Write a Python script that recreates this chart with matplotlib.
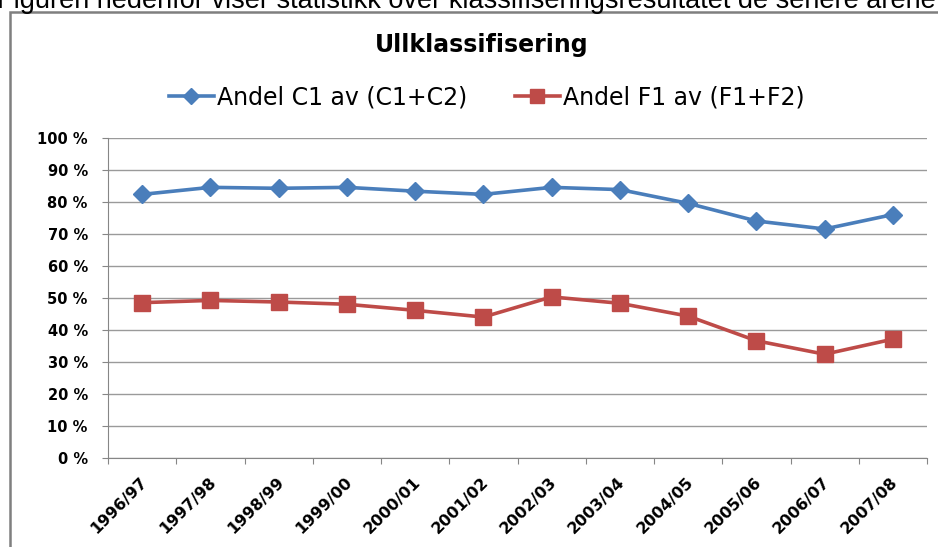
import matplotlib.pyplot as plt
from matplotlib.patches import Rectangle
from matplotlib.ticker import FixedLocator, NullFormatter

sesonger = ['1996/97', '1997/98', '1998/99', '1999/00', '2000/01', '2001/02',
            '2002/03', '2003/04', '2004/05', '2005/06', '2006/07', '2007/08']
andel_c1 = [82.3, 84.5, 84.2, 84.5, 83.3, 82.3, 84.5, 83.8, 79.5, 74.0, 71.5, 76.0]
andel_f1 = [48.5, 49.2, 48.7, 48.0, 46.1, 44.0, 50.3, 48.3, 44.3, 36.6, 32.4, 37.1]
y_ticks = list(range(0, 101, 10))

font = ['DejaVu Sans']
blaa = '#4A7EBB'
rod = '#BE4B48'
graa = '#868686'

fig = plt.figure(figsize=(9.38, 5.47), dpi=100)
ax = fig.add_axes([108 / 938, 1 - 458 / 547, (927 - 108) / 938, (458 - 137.7) / 547])

x = list(range(len(sesonger)))
ax.plot(x, andel_c1, color=blaa, lw=2.6, marker='D', ms=9.5, label='Andel C1 av (C1+C2)')
ax.plot(x, andel_f1, color=rod, lw=2.6, marker='s', ms=11.5, label='Andel F1 av (F1+F2)')

ax.set_xlim(-0.5, len(sesonger) - 0.5)
ax.set_ylim(0, 100)
ax.set_yticks(y_ticks)
ax.set_yticklabels([f'{v} %' for v in y_ticks], fontfamily=font, fontweight='bold', fontsize=10.5)
ax.tick_params(axis='y', length=4.5, color=graa, pad=10)
ax.grid(axis='y', color='#9A9A9A', lw=1)
ax.set_axisbelow(True)

# kategorietiketter midt i, hakene mellom kategoriene
ax.xaxis.set_major_locator(FixedLocator([i - 0.5 for i in range(len(sesonger) + 1)]))
ax.xaxis.set_major_formatter(NullFormatter())
ax.tick_params(axis='x', length=4.5, color=graa)
for i, s in enumerate(sesonger):
    ax.annotate(s, (i, 0), xycoords='data', xytext=(2, -16), textcoords='offset points',
                rotation=45, ha='right', va='center', rotation_mode='anchor',
                fontfamily=font, fontweight='bold', fontsize=11.5)

for side in ['top', 'right']:
    ax.spines[side].set_visible(False)
ax.spines['left'].set_color(graa)
ax.spines['bottom'].set_color(graa)

fig.text(482 / 938, 1 - 45 / 547, 'Ullklassifisering', ha='center', va='center',
         fontfamily=font, fontweight='bold', fontsize=17)
fig.legend(loc='center', bbox_to_anchor=(487 / 938, 1 - 97 / 547), ncol=2, frameon=False,
           prop={'family': font, 'size': 17}, handlelength=1.9, handletextpad=0.15,
           columnspacing=2.0, markerscale=0.85)

# ramme rundt diagrammet og avskåret tekst over
fig.patches.append(Rectangle((10 / 938, -0.05), 1.0, 1 - 12 / 547 + 0.05, transform=fig.transFigure,
                             fill=False, ec='#7F7F7F', lw=1.8))
fig.text(-0.003, 1 - 7.5 / 547, 'Figuren nedenfor viser statistikk over klassifiseringsresultatet de senere årene.',
         ha='left', va='baseline', fontfamily=['Liberation Sans'], fontsize=19.5)

fig.savefig('out.png', dpi=100)
